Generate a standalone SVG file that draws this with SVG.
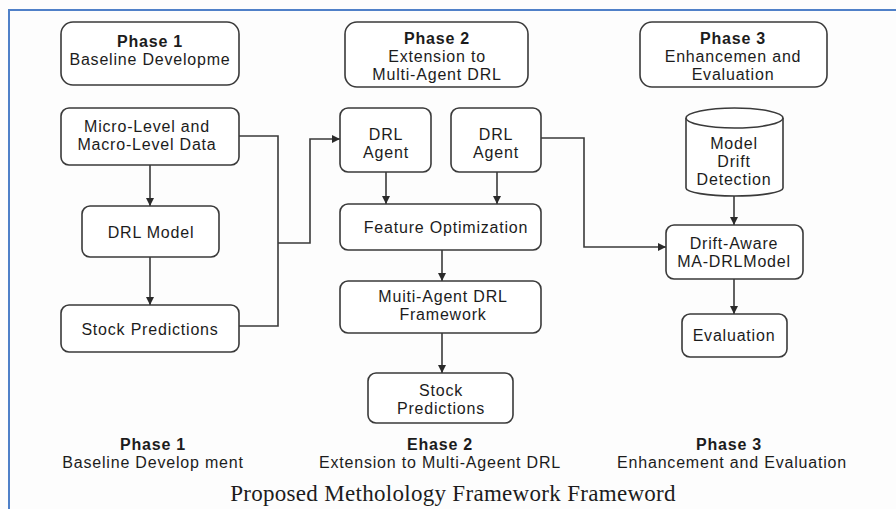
<svg xmlns="http://www.w3.org/2000/svg" width="896" height="509" viewBox="0 0 896 509">
<style>
.bg{fill:#fdfdfd}
.frame{fill:none;stroke:#4f80c8;stroke-width:2}
.box{fill:#ffffff;stroke:#3a3a3a;stroke-width:1.6}
.ln{fill:none;stroke:#3a3a3a;stroke-width:1.6}
.t{font-family:"Liberation Sans",Arial,sans-serif;font-size:16px;fill:#1c1c1c;text-anchor:middle;letter-spacing:0.8px}
.b{font-weight:bold}
.cap{font-family:"Liberation Serif","Times New Roman",serif;font-size:23px;fill:#1c1c1c;text-anchor:middle;letter-spacing:0.3px}
</style>
<defs>
<marker id="ah" viewBox="0 0 10 10" refX="10" refY="5" markerWidth="9" markerHeight="8" markerUnits="userSpaceOnUse" orient="auto">
<path d="M0,0 L10,5 L0,10 Z" fill="#2a2a2a"/>
</marker>
</defs>
<rect class="bg" x="0" y="0" width="896" height="509"/>
<path class="frame" d="M9,509 L9,10 L896,10"/>

<g id="connectors">
<path class="ln" marker-end="url(#ah)" d="M150,165 L150,206"/>
<path class="ln" marker-end="url(#ah)" d="M150,257 L150,305"/>
<path class="ln" d="M239,136 L278,136 L278,326 L239,326"/>
<path class="ln" marker-end="url(#ah)" d="M278,243 L310,243 L310,139 L340,139"/>
<path class="ln" marker-end="url(#ah)" d="M541,138 L584,138 L584,247 L666,247"/>
<path class="ln" marker-end="url(#ah)" d="M386,172 L386,204"/>
<path class="ln" marker-end="url(#ah)" d="M497,172 L497,204"/>
<path class="ln" marker-end="url(#ah)" d="M442,250 L442,281"/>
<path class="ln" marker-end="url(#ah)" d="M442,333 L442,373"/>
<path class="ln" marker-end="url(#ah)" d="M734,196 L734,225"/>
<path class="ln" marker-end="url(#ah)" d="M734,279 L734,314"/>
</g>

<g id="phase1-header">
<rect class="box" x="61" y="22" width="178" height="63" rx="12"/>
<text class="t b" x="150" y="47">Phase 1</text>
<text class="t" x="150" y="65">Baseline Developme</text>
</g>
<g id="micro-macro">
<rect class="box" x="61" y="108" width="178" height="57" rx="8"/>
<text class="t" x="147" y="132">Micro-Level and</text>
<text class="t" x="147" y="150">Macro-Level Data</text>
</g>
<g id="drl-model">
<rect class="box" x="82" y="206" width="137" height="51" rx="8"/>
<text class="t" x="151" y="238">DRL Model</text>
</g>
<g id="stock-predictions-1">
<rect class="box" x="61" y="305" width="178" height="47" rx="8"/>
<text class="t" x="150" y="335">Stock Predictions</text>
</g>

<g id="phase2-header">
<rect class="box" x="345" y="22" width="183" height="65" rx="12"/>
<text class="t b" x="437" y="44">Phase 2</text>
<text class="t" x="437" y="62">Extension  to</text>
<text class="t" x="437" y="80">Multi-Agent DRL</text>
</g>
<g id="drl-agent-1">
<rect class="box" x="340" y="108" width="91" height="64" rx="8"/>
<text class="t" x="386" y="140">DRL</text>
<text class="t" x="386" y="158">Agent</text>
</g>
<g id="drl-agent-2">
<rect class="box" x="451" y="108" width="90" height="64" rx="8"/>
<text class="t" x="496" y="140">DRL</text>
<text class="t" x="496" y="158">Agent</text>
</g>
<g id="feature-optimization">
<rect class="box" x="340" y="204" width="201" height="46" rx="8"/>
<text class="t" x="446" y="233">Feature Optimization</text>
</g>
<g id="multi-agent-framework">
<rect class="box" x="340" y="281" width="201" height="52" rx="8"/>
<text class="t" x="443" y="302">Muiti-Agent DRL</text>
<text class="t" x="443" y="320">Framework</text>
</g>
<g id="stock-predictions-2">
<rect class="box" x="368" y="373" width="145" height="50" rx="8"/>
<text class="t" x="441" y="396">Stock</text>
<text class="t" x="441" y="414">Predictions</text>
</g>

<g id="phase3-header">
<rect class="box" x="640" y="22" width="187" height="65" rx="12"/>
<text class="t b" x="733" y="44">Phase 3</text>
<text class="t" x="733" y="62">Enhancemen and</text>
<text class="t" x="733" y="80">Evaluation</text>
</g>
<g id="model-drift-detection">
<path class="box" d="M686,118 L686,188 A48.5,8 0 0 0 783,188 L783,118"/>
<ellipse class="box" cx="734.5" cy="118" rx="48.5" ry="10"/>
<text class="t" x="734" y="149">Model</text>
<text class="t" x="734" y="167">Drift</text>
<text class="t" x="734" y="185">Detection</text>
</g>
<g id="drift-aware-model">
<rect class="box" x="666" y="225" width="137" height="54" rx="8"/>
<text class="t" x="734" y="249">Drift-Aware</text>
<text class="t" x="734" y="267">MA-DRLModel</text>
</g>
<g id="evaluation">
<rect class="box" x="682" y="314" width="105" height="43" rx="8"/>
<text class="t" x="734" y="341">Evaluation</text>
</g>

<g id="labels">
<text class="t b" x="153" y="450">Phase 1</text>
<text class="t" x="153" y="468">Baseline Develop ment</text>
<text class="t b" x="440" y="450">Ehase 2</text>
<text class="t" x="440" y="468">Extension to Multi-Ageent DRL</text>
<text class="t b" x="729" y="450">Phase 3</text>
<text class="t" x="732" y="468">Enhancement and Evaluation</text>
<text class="cap" x="453" y="501">Proposed Metholology Framework Frameword</text>
</g>
</svg>
